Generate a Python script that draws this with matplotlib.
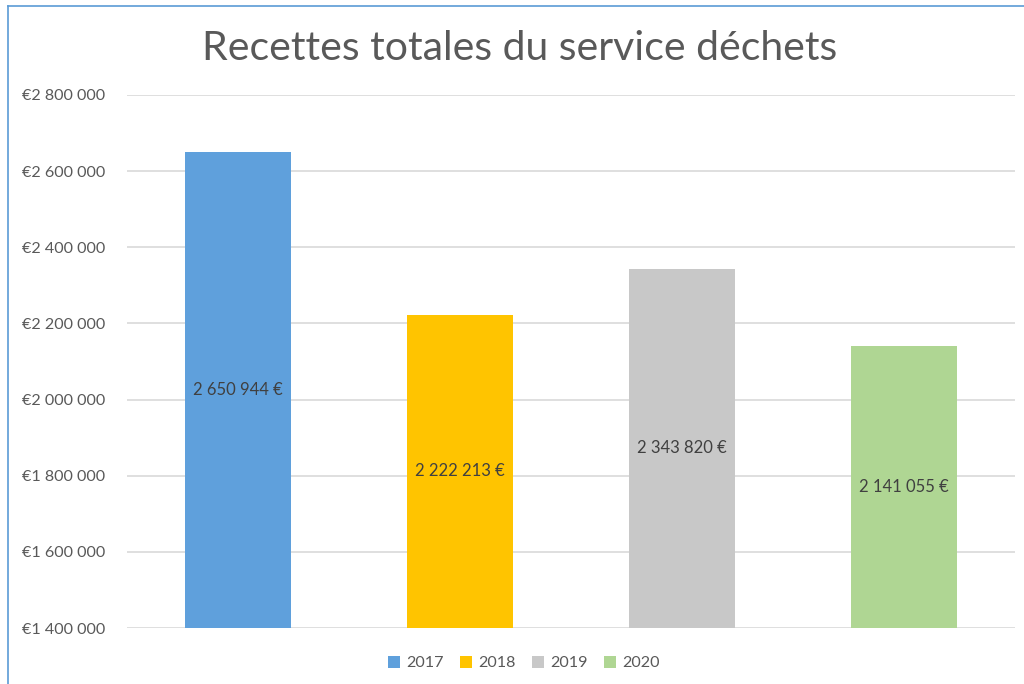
import matplotlib
matplotlib.use("Agg")
import matplotlib.pyplot as plt
from matplotlib.ticker import FuncFormatter
from matplotlib.patches import Patch
from matplotlib.lines import Line2D

years = ["2017", "2018", "2019", "2020"]
values = [2650944, 2222213, 2343820, 2141055]
colors = ["#5fa0dc", "#ffc400", "#c8c8c8", "#afd693"]
yticks = [1400000, 1600000, 1800000, 2000000, 2200000, 2400000, 2600000, 2800000]

plt.rcParams['font.family'] = ['Lato', 'DejaVu Sans']

fig = plt.figure(figsize=(10.24, 6.84), dpi=100)
ax = fig.add_axes([127/1024, 1 - 628/684, (1015-127)/1024, (628-95)/684])

ymin, ymax = 1400000, 2800000
x = list(range(len(years)))
bars = ax.bar(x, values, width=0.48, color=colors, bottom=0, zorder=3)
ax.set_ylim(ymin, ymax)
ax.set_xlim(-0.5, len(years) - 0.5)

def fmt_num(v):
    return f"{int(v):,}".replace(",", " ")

ax.set_yticks(yticks)
ax.yaxis.set_major_formatter(FuncFormatter(lambda v, p: "€" + fmt_num(v)))
ax.tick_params(axis='y', length=0, pad=16, labelsize=11.6, labelcolor="#595959")
ax.set_xticks([])
for s in ax.spines.values():
    s.set_visible(False)
ax.grid(axis='y', color="#d9d9d9", linewidth=1.2, zorder=0)

for xi, v in zip(x, values):
    ax.text(xi, (ymin + v) / 2, fmt_num(v) + " €", ha='center', va='center',
            fontsize=12, color="#404040", zorder=4)

fig.text(520/1024, 1 - 49/684, "Recettes totales du service déchets", ha='center', va='center',
         fontsize=29.5, color="#595959")

handles = [Patch(facecolor=c, edgecolor='none') for c in colors]
fig.legend(handles, years, loc='center', bbox_to_anchor=(524/1024, 1 - 663/684), ncol=4,
           frameon=False, fontsize=11.6, labelcolor="#595959", handlelength=0.75, handleheight=0.75,
           columnspacing=1.0, handletextpad=0.4)

# partial chart border (left and top)
fig.add_artist(Line2D([8/1024, 8/1024], [0, 1 - 6/684], color="#5b9bd5", linewidth=1.2))
fig.add_artist(Line2D([8/1024, 1], [1 - 6/684, 1 - 6/684], color="#5b9bd5", linewidth=1.2))

fig.savefig("out.png", dpi=100)
